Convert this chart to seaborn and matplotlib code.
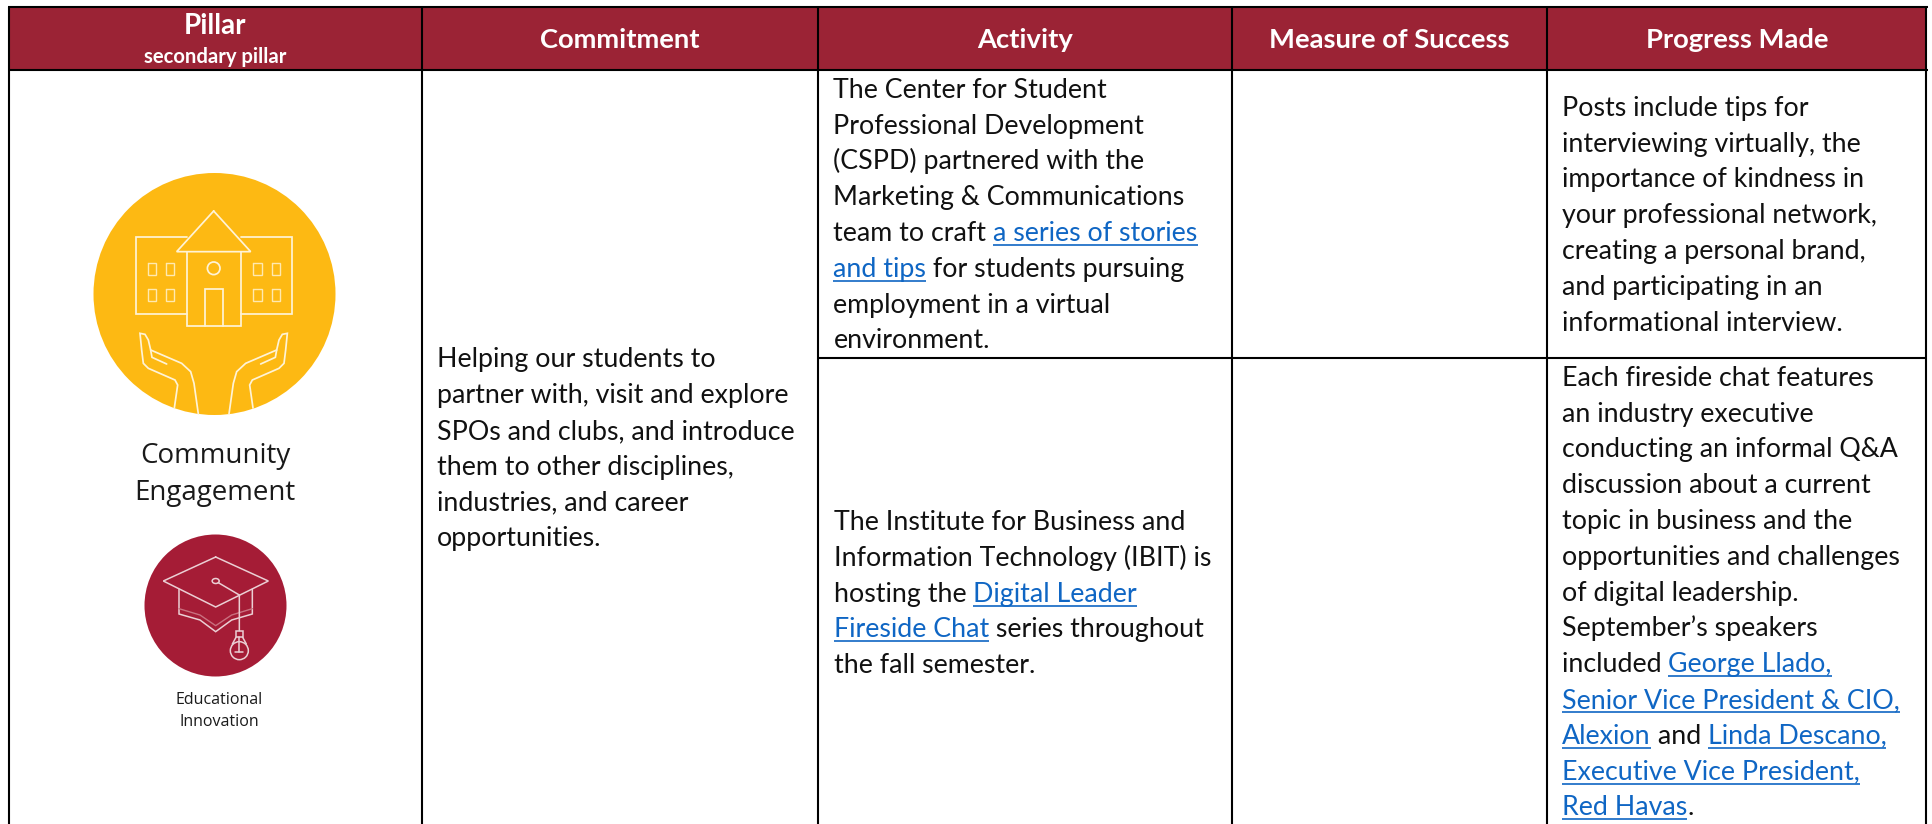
import matplotlib
matplotlib.use("Agg")
import matplotlib.pyplot as plt
from matplotlib.patches import Circle, Ellipse, Rectangle
import seaborn as sns

# ---------- content ----------
headers = ["Pillar", "Commitment", "Activity", "Measure of Success", "Progress Made"]
header_sub = "secondary pillar"
pillar_main = ["Community", "Engagement"]
pillar_second = ["Educational", "Innovation"]

# every line is a list of runs; (text, True) marks hyperlink text
commitment = [
    [("Helping our students to", False)],
    [("partner with, visit and explore", False)],
    [("SPOs and clubs, and introduce", False)],
    [("them to other disciplines,", False)],
    [("industries, and career", False)],
    [("opportunities.", False)],
]
activity_1 = [
    [("The Center for Student", False)],
    [("Professional Development", False)],
    [("(CSPD) partnered with the", False)],
    [("Marketing & Communications", False)],
    [("team to craft ", False), ("a series of stories", True)],
    [("and tips", True), (" for students pursuing", False)],
    [("employment in a virtual", False)],
    [("environment.", False)],
]
activity_2 = [
    [("The Institute for Business and", False)],
    [("Information Technology (IBIT) is", False)],
    [("hosting the ", False), ("Digital Leader", True)],
    [("Fireside Chat", True), (" series throughout", False)],
    [("the fall semester.", False)],
]
progress_1 = [
    [("Posts include tips for", False)],
    [("interviewing virtually, the", False)],
    [("importance of kindness in", False)],
    [("your professional network,", False)],
    [("creating a personal brand,", False)],
    [("and participating in an", False)],
    [("informational interview.", False)],
]
progress_2 = [
    [("Each fireside chat features", False)],
    [("an industry executive", False)],
    [("conducting an informal Q&A", False)],
    [("discussion about a current", False)],
    [("topic in business and the", False)],
    [("opportunities and challenges", False)],
    [("of digital leadership.", False)],
    [("September\u2019s speakers", False)],
    [("included ", False), ("George Llado,", True)],
    [("Senior Vice President & CIO,", True)],
    [("Alexion", True), (" and ", False), ("Linda Descano,", True)],
    [("Executive Vice President,", True)],
    [("Red Havas", True), (".", False)],
]

# ---------- style ----------
W, H = 1933, 824
MAROON = "#9B2335"
GOLD = "#FDB913"
CRIMSON = "#A51C36"
LINK = "#0F66C4"
INK = "#111111"
BODY_FONT = "Lato"
BODY_SIZE = 19.3
PITCH = 35.8
GRID_LW = 1.5

sns.set_theme(style="white")
fig = plt.figure(figsize=(W / 100, H / 100), dpi=100, facecolor="white")
ax = fig.add_axes([0, 0, 1, 1])
ax.set_xlim(0, W)
ax.set_ylim(H, 0)
ax.set_axis_off()
sns.despine(ax=ax, left=True, bottom=True)
renderer = fig.canvas.get_renderer()


def advance(s, **kw):
    """Text advance in pixels, keeping leading and trailing spaces."""
    t = ax.text(0, 0, s + "|", **kw)
    a = t.get_window_extent(renderer).width
    t.set_text("|")
    b = t.get_window_extent(renderer).width
    t.remove()
    return a - b


def paragraph(lines, x, first_baseline):
    kw = dict(family=BODY_FONT, fontsize=BODY_SIZE)
    for i, runs in enumerate(lines):
        y = first_baseline + i * PITCH
        cx = x
        for text, is_link in runs:
            w = advance(text, **kw)
            ax.text(cx, y, text, color=LINK if is_link else INK, va="baseline", ha="left", **kw)
            if is_link:
                ax.plot([cx, cx + w], [y + 4, y + 4], color=LINK, lw=1.2, solid_capstyle="butt")
            cx += w


# ---------- table frame ----------
col_x = [9, 422, 818, 1232, 1547, 1926]
top, head_bottom, row_split = 7, 70, 358
ax.add_patch(Rectangle((col_x[0], top), col_x[-1] + 1.5 - col_x[0], head_bottom - top,
                       facecolor=MAROON, edgecolor="none"))
for x in col_x:
    ax.plot([x, x], [top, H + 2], color="black", lw=GRID_LW, solid_capstyle="butt")
for y in (top, head_bottom):
    ax.plot([col_x[0] - 1, col_x[-1] + 2], [y, y], color="black", lw=GRID_LW, solid_capstyle="butt")
ax.plot([col_x[2], col_x[-1]], [row_split, row_split], color="black", lw=GRID_LW, solid_capstyle="butt")

# ---------- header ----------
head_kw = dict(family=BODY_FONT, fontweight="bold", color="white", ha="center", va="baseline")
ax.text(215, 34, headers[0], fontsize=20, **head_kw)
ax.text(215, 62.5, header_sub, fontsize=14.6, **head_kw)
for name, cx in zip(headers[1:], [620, 1025, 1389, 1737]):
    ax.text(cx, 48, name, fontsize=19.7, **head_kw)

# ---------- body text ----------
paragraph(commitment, 437, 367.3)
paragraph(activity_1, 833.5, 97.8)
paragraph(activity_2, 834, 530)
paragraph(progress_1, 1562, 115.7)
paragraph(progress_2, 1562, 385.7)

# ---------- pillar labels ----------
label_kw = dict(family="Open Sans", color="#1a1a1a", ha="center", va="baseline")
ax.text(215, 462.7, pillar_main[0], fontsize=20, **label_kw)
ax.text(215, 500, pillar_main[1], fontsize=20, **label_kw)
ax.text(219, 704, pillar_second[0], fontsize=11.5, **label_kw)
ax.text(219, 726, pillar_second[1], fontsize=11.5, **label_kw)


# ---------- community engagement icon ----------
def z1(pts):
    return [(a / 3, b / 3) for a, b in pts]


ax.add_patch(Circle((214.5, 294), 121, facecolor=GOLD, edgecolor="none"))
ic = dict(color="#FFF3D6", lw=1.25, solid_joinstyle="miter")


def poly(pts, **kw):
    xs, ys = zip(*pts)
    ax.plot(xs, ys, **kw)


poly(z1([(560, 712), (408, 712), (408, 942), (560, 942)]), **ic)
poly(z1([(722, 712), (876, 712), (876, 942), (722, 942)]), **ic)
poly(z1([(641, 633), (752, 755), (530, 755), (641, 633)]), **ic)
poly(z1([(560, 755), (560, 977), (722, 977), (722, 755)]), **ic)
poly(z1([(615, 977), (615, 868), (668, 868), (668, 977)]), **ic)
ax.add_patch(Circle((213.7, 268.3), 6.3, facecolor="none", edgecolor="#FFF3D6", lw=1.25))
win = dict(color="#FFE9B0", lw=1.0, solid_joinstyle="miter")
for wx in (443, 498, 760, 815):
    for wy in (790, 868):
        poly(z1([(wx, wy), (wx + 25, wy), (wx + 25, wy + 34), (wx, wy + 34), (wx, wy)]), **win)

hand = [(523, 1224), (533, 1155), (525, 1140), (445, 1105), (430, 1090), (425, 1050), (420, 1000),
        (435, 1003), (445, 1020), (452, 1050), (545, 1090), (572, 1115), (582, 1150), (595, 1242)]
inner = [(452, 1050), (456, 1072), (500, 1092)]
poly(z1(hand), **ic)
poly(z1(inner), **ic)
poly(z1([(1282 - a, b) for a, b in hand]), **ic)
poly(z1([(1282 - a, b) for a, b in inner]), **ic)


# ---------- educational innovation icon ----------
def z2(pts):
    return [(a / 3, 420 + b / 3) for a, b in pts]


ax.add_patch(Circle((215.5, 605.5), 71, facecolor=CRIMSON, edgecolor="none"))
cp = dict(color="#EBCFD4", lw=1.1, solid_joinstyle="miter")
poly(z2([(647, 411), (805, 483), (647, 561), (490, 483), (647, 411)]), **cp)
poly(z2([(537, 508), (537, 582), (600, 600), (647, 635), (695, 600), (757, 582), (757, 508)]), **cp)
poly(z2([(537, 566), (600, 585), (647, 617), (695, 585), (757, 566)]), color="#C9707F", lw=1.0)
poly(z2([(655, 488), (718, 525), (718, 632)]), **cp)
poly(z2([(718, 650), (718, 695)]), **cp)
poly(z2([(706, 695), (730, 695)]), **cp)
ax.add_patch(Ellipse((647 / 3, 420 + 483 / 3), 7, 5, facecolor="none", edgecolor="#EBCFD4", lw=1.1))
ax.add_patch(Circle((718 / 3, 420 + 692 / 3), 9, facecolor="none", edgecolor="#EBCFD4", lw=1.1))
ax.add_patch(Rectangle((708 / 3, 420 + 634 / 3), 20 / 3, 18 / 3, facecolor=CRIMSON, edgecolor="#EBCFD4", lw=1.1))
poly(z2([(697, 672), (708, 652)]), **cp)
poly(z2([(739, 672), (728, 652)]), **cp)

fig.savefig("out.png", dpi=100, facecolor="white")
